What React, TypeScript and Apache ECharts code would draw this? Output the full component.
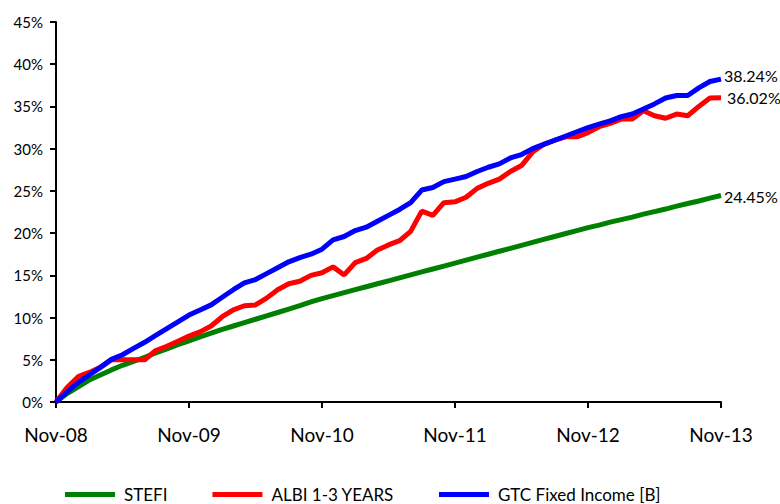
import React, { useEffect, useRef } from "react";
import * as echarts from "echarts";

const months = [
  "Nov-08","Dec-08","Jan-09","Feb-09","Mar-09","Apr-09","May-09","Jun-09","Jul-09","Aug-09","Sep-09","Oct-09",
  "Nov-09","Dec-09","Jan-10","Feb-10","Mar-10","Apr-10","May-10","Jun-10","Jul-10","Aug-10","Sep-10","Oct-10",
  "Nov-10","Dec-10","Jan-11","Feb-11","Mar-11","Apr-11","May-11","Jun-11","Jul-11","Aug-11","Sep-11","Oct-11",
  "Nov-11","Dec-11","Jan-12","Feb-12","Mar-12","Apr-12","May-12","Jun-12","Jul-12","Aug-12","Sep-12","Oct-12",
  "Nov-12","Dec-12","Jan-13","Feb-13","Mar-13","Apr-13","May-13","Jun-13","Jul-13","Aug-13","Sep-13","Oct-13",
  "Nov-13",
];

const stefi = [
  0, 1.0, 1.8, 2.6, 3.2, 3.8, 4.35, 4.8, 5.3, 5.8, 6.3, 6.8,
  7.25, 7.7, 8.15, 8.6, 9.0, 9.4, 9.8, 10.2, 10.6, 11.0, 11.4, 11.85,
  12.25, 12.6, 12.95, 13.3, 13.65, 14.0, 14.35, 14.7, 15.05, 15.4, 15.75, 16.1,
  16.45, 16.8, 17.15, 17.5, 17.85, 18.2, 18.55, 18.9, 19.25, 19.6, 19.95, 20.3,
  20.65, 20.95, 21.3, 21.6, 21.9, 22.25, 22.55, 22.85, 23.2, 23.5, 23.8, 24.15,
  24.45,
];

const albi = [
  0, 1.7, 3.0, 3.5, 4.1, 5.0, 5.0, 5.0, 5.0, 6.1, 6.6, 7.2,
  7.8, 8.3, 9.0, 10.1, 10.9, 11.4, 11.5, 12.3, 13.3, 14.0, 14.3, 15.0,
  15.3, 16.0, 15.05, 16.5, 17.0, 18.0, 18.6, 19.1, 20.2, 22.6, 22.1, 23.6,
  23.7, 24.25, 25.3, 25.9, 26.4, 27.3, 28.0, 29.6, 30.5, 31.0, 31.4, 31.4,
  31.9, 32.6, 33.0, 33.5, 33.5, 34.5, 33.9, 33.6, 34.1, 33.9, 35.0, 36.0,
  36.02,
];

const gtc = [
  0, 1.2, 2.3, 3.2, 4.1, 5.05, 5.6, 6.35, 7.07, 7.9, 8.7, 9.5,
  10.3, 10.9, 11.5, 12.4, 13.3, 14.1, 14.5, 15.2, 15.9, 16.6, 17.1, 17.5,
  18.1, 19.2, 19.6, 20.3, 20.7, 21.4, 22.1, 22.8, 23.6, 25.1, 25.4, 26.1,
  26.4, 26.7, 27.3, 27.8, 28.2, 28.9, 29.3, 30.0, 30.5, 31.0, 31.5, 32.0,
  32.5, 32.9, 33.3, 33.8, 34.1, 34.7, 35.3, 36.0, 36.3, 36.3, 37.2, 37.95,
  38.24,
];

const seriesNames = ["STEFI", "ALBI 1-3 YEARS", "GTC Fixed Income [B]"];
const seriesColors = ["#008000", "#FF0000", "#0000FF"];
const endLabels = ["24.45%", "36.02%", "38.24%"];

const FONT = "Lato, 'Liberation Sans', sans-serif";

export default function App() {
  const ref = useRef<HTMLDivElement>(null);
  useEffect(() => {
    if (!ref.current) return;
    const chart = echarts.init(ref.current, undefined, { renderer: "svg" });
    const datasets = [stefi, albi, gtc];
    const offsets = [[-1, 1], [2, 0], [-1, -4]];
    const legendWidths = [40, 128, undefined];
    chart.setOption({
      animation: false,
      backgroundColor: "#ffffff",
      grid: { left: 56, right: 59, top: 22, bottom: 102, containLabel: false },
      xAxis: {
        type: "category",
        data: months,
        boundaryGap: false,
        axisLine: { lineStyle: { color: "#000", width: 2 } },
        axisTick: { interval: 11, length: 6, lineStyle: { color: "#000", width: 2 } },
        axisLabel: {
          interval: 11,
          margin: 23,
          color: "#000",
          fontSize: 19,
          fontFamily: FONT,
        },
        splitLine: { show: false },
      },
      yAxis: {
        type: "value",
        min: 0,
        max: 45,
        interval: 5,
        axisLine: { show: true, lineStyle: { color: "#000", width: 2 } },
        axisTick: { show: true, length: 6, lineStyle: { color: "#000", width: 2 } },
        axisLabel: {
          formatter: "{value}%",
          color: "#000",
          fontSize: 15,
          margin: 13,
          fontFamily: FONT,
        },
        splitLine: { show: false },
      },
      legend: {
        top: 486,
        left: 65,
        padding: 0,
        itemWidth: 50,
        itemHeight: 5,
        itemGap: 45,
        icon: "rect",
        textStyle: { color: "#000", fontSize: 17, fontFamily: FONT, padding: [0, 0, 0, 4] },
        data: seriesNames.map((n, i) =>
          legendWidths[i] ? { name: n, textStyle: { width: legendWidths[i] } } : { name: n }
        ),
      },
      series: datasets.map((d, i) => ({
        name: seriesNames[i],
        type: "line",
        data: d,
        showSymbol: false,
        symbol: "none",
        color: seriesColors[i],
        lineStyle: { color: seriesColors[i], width: 5 },
        endLabel: {
          show: true,
          formatter: () => endLabels[i],
          color: "#000",
          fontSize: 16,
          fontFamily: FONT,
          distance: 4,
          offset: offsets[i],
        },
        z: i + 2,
      })),
    });
    return () => chart.dispose();
  }, []);
  return (
    <div
      ref={ref}
      style={{ position: "fixed", left: 0, top: 0, width: 780, height: 504 }}
    />
  );
}
